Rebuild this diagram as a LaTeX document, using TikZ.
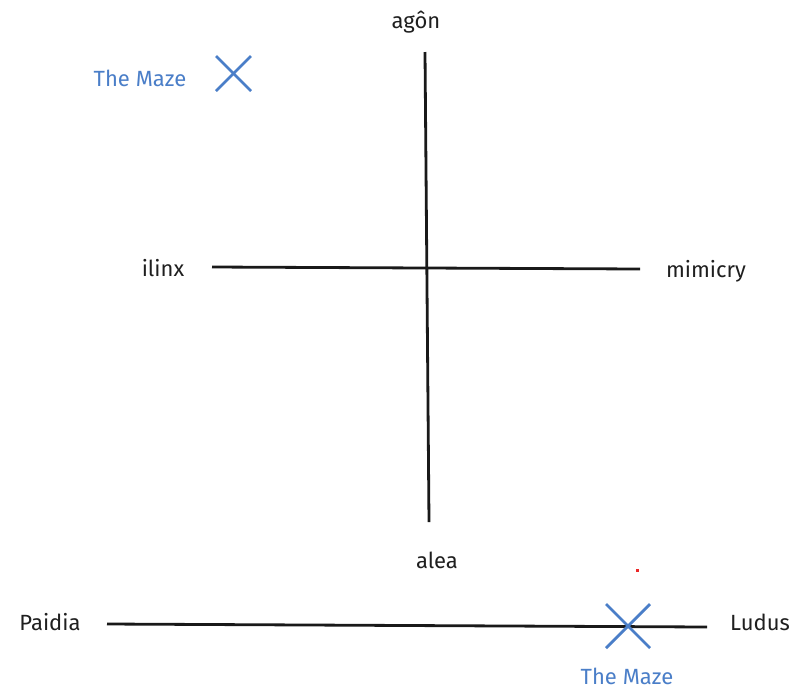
\documentclass[tikz,border=0pt]{standalone}
\usepackage{fontspec}
\setmainfont{Fira Sans}
\definecolor{mazeblue}{RGB}{74,126,200}
\definecolor{dotred}{RGB}{235,40,40}
\begin{document}
\begin{tikzpicture}[x=1pt,y=-1pt,
  lbl/.style={font=\fontsize{22}{26}\selectfont, text=black!88, inner sep=0pt},
  mazelbl/.style={font=\fontsize{22}{26}\selectfont, text=mazeblue, inner sep=0pt},
  axis/.style={line width=2.8pt, black!90},
  cross/.style={line width=2.8pt, mazeblue}]
\useasboundingbox[fill=white] (0,0) rectangle (803,689);
% axes endpoints
\coordinate (vtop) at (425,52);
\coordinate (vbot) at (429,522);
\coordinate (hl) at (212,267);
\coordinate (hr) at (640,269);
\coordinate (bl) at (107,624);
\coordinate (br) at (707,627);
\draw[axis] (vtop) -- (vbot);
\draw[axis] (hl) -- (hr);
\draw[axis] (bl) -- (br);
% labels
\node[lbl] (agon) at (416,22) {agôn};
\node[lbl] (ilinx) at (163,268) {ilinx};
\node[lbl] (mimicry) at (706,271) {mimicry};
\node[lbl] (alea) at (437,560) {alea};
\node[lbl] (paidia) at (50,622) {Paidia};
\node[lbl] (ludus) at (760,622) {Ludus};
\node[mazelbl] (maze1) at (140,78) {The Maze};
\node[mazelbl] (maze2) at (627,676) {The Maze};
% crosses
\coordinate (c1a) at (216,56);
\coordinate (c1b) at (251,91);
\coordinate (c1c) at (251,56);
\coordinate (c1d) at (216,91);
\draw[cross] (c1a) -- (c1b);
\draw[cross] (c1c) -- (c1d);
\coordinate (c2a) at (606,604);
\coordinate (c2b) at (650,648);
\coordinate (c2c) at (650,604);
\coordinate (c2d) at (606,648);
\draw[cross] (c2a) -- (c2b);
\draw[cross] (c2c) -- (c2d);
% stray dot
\fill[dotred] (636,569) rectangle (638.5,571.5);
\end{tikzpicture}
\end{document}
